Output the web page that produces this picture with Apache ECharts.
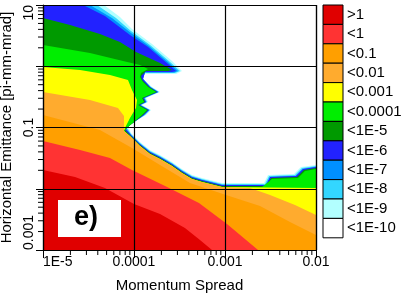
<!DOCTYPE html>
<html><head><meta charset="utf-8">
<script src="https://cdn.jsdelivr.net/npm/echarts@6/dist/echarts.min.js"></script>
<style>html,body{margin:0;padding:0;background:#fff}#c{width:407px;height:302px}</style>
</head><body><div id="c"></div><script>
// ---- axes ----
const X_MIN = 1e-5, X_MAX = 1e-2, Y_MIN = 1e-3, Y_MAX = 10;
const xTickValues = [1e-5, 1e-4, 1e-3, 1e-2];
const xTickLabels = ['1E-5', '0.0001', '0.001', '0.01'];
const yTickValues = [1e-3, 1e-2, 1e-1, 1, 10];
const yTickLabels = ['0.001', '', '0.1', '', '10'];
const xTitle = 'Momentum Spread';
const yTitle = 'Horizontal Emittance [pi-mm-mrad]';
const panelLabel = 'e)';

// ---- legend (levels, top to bottom) ----
const legendLabels = ['>1', '<1', '<0.1', '<0.01', '<0.001', '<0.0001', '<1E-5', '<1E-6', '<1E-7', '<1E-8', '<1E-9', '<1E-10'];
const legendColors = ['#E00000', '#FF3333', '#FF9F00', '#FFAB2E', '#FFFF00', '#00EE00', '#009A00', '#2222FF', '#0090FF', '#33D6FF', '#B2FFFF', '#FFFFFF'];

// ---- contour edges: [log10(momentum spread), log10(emittance)] ----
// each edge bounds the region (towards small spread / small emittance) where the value >= level
const edge1e10 = [[-4.330,1.000],[-4.154,0.804],[-4.022,0.608],[-3.802,0.363],[-3.582,0.086],[-3.473,-0.078],[-3.538,-0.127],[-3.879,-0.127],[-3.923,-0.176],[-3.802,-0.339],[-3.714,-0.420],[-3.868,-0.518],[-3.846,-0.584],[-3.912,-0.633],[-3.813,-0.714],[-3.868,-0.796],[-4.022,-0.927],[-4.066,-0.992],[-4.033,-1.090],[-3.934,-1.237],[-3.824,-1.367],[-3.714,-1.449],[-3.582,-1.563],[-3.473,-1.678],[-3.363,-1.776],[-3.253,-1.824],[-3.033,-1.906],[-2.571,-1.906],[-2.527,-1.776],[-2.242,-1.759],[-2.165,-1.645],[-2.000,-1.612]];
const edge1e9 = [[-4.407,1.000],[-4.198,0.788],[-4.033,0.576],[-3.824,0.347],[-3.604,0.069],[-3.495,-0.078],[-3.549,-0.110],[-3.879,-0.110],[-3.912,-0.192],[-3.813,-0.339],[-3.725,-0.420],[-3.879,-0.518],[-3.857,-0.584],[-3.923,-0.633],[-3.824,-0.714],[-3.879,-0.796],[-4.033,-0.943],[-4.077,-1.008],[-4.033,-1.106],[-3.934,-1.253],[-3.824,-1.384],[-3.714,-1.465],[-3.582,-1.580],[-3.473,-1.694],[-3.363,-1.792],[-3.253,-1.841],[-3.033,-1.922],[-2.560,-1.922],[-2.516,-1.792],[-2.231,-1.776],[-2.154,-1.661],[-2.000,-1.629]];
const edge1e8 = [[-4.484,1.000],[-4.242,0.788],[-4.033,0.543],[-3.835,0.331],[-3.615,0.053],[-3.516,-0.078],[-3.560,-0.102],[-3.879,-0.102],[-3.901,-0.208],[-3.824,-0.339],[-3.736,-0.420],[-3.890,-0.518],[-3.868,-0.584],[-3.934,-0.633],[-3.835,-0.714],[-3.890,-0.796],[-4.044,-0.959],[-4.088,-1.024],[-4.033,-1.122],[-3.934,-1.269],[-3.824,-1.400],[-3.714,-1.482],[-3.582,-1.596],[-3.473,-1.710],[-3.363,-1.808],[-3.253,-1.857],[-3.033,-1.939],[-2.549,-1.939],[-2.505,-1.808],[-2.220,-1.792],[-2.143,-1.678],[-2.000,-1.645]];
const edge1e7 = [[-4.560,1.000],[-4.319,0.820],[-4.044,0.510],[-3.846,0.314],[-3.626,0.037],[-3.538,-0.078],[-3.582,-0.094],[-3.879,-0.094],[-3.901,-0.208],[-3.824,-0.339],[-3.736,-0.420],[-3.890,-0.518],[-3.868,-0.584],[-3.934,-0.633],[-3.835,-0.714],[-3.890,-0.796],[-4.044,-0.959],[-4.088,-1.024],[-4.033,-1.122],[-3.934,-1.269],[-3.824,-1.400],[-3.714,-1.482],[-3.582,-1.596],[-3.473,-1.710],[-3.363,-1.808],[-3.253,-1.857],[-3.033,-1.939],[-2.549,-1.939],[-2.505,-1.808],[-2.220,-1.792],[-2.143,-1.678],[-2.000,-1.645]];
const edge1e6 = [[-5.000,0.788],[-4.703,0.673],[-4.374,0.527],[-4.154,0.396],[-3.978,0.233],[-3.714,0.053],[-3.582,-0.061],[-3.626,-0.078],[-3.868,-0.078],[-3.923,-0.159],[-3.912,-0.224],[-3.835,-0.339],[-3.747,-0.420],[-3.901,-0.518],[-3.879,-0.584],[-3.945,-0.633],[-3.846,-0.714],[-3.901,-0.796],[-4.055,-0.976],[-4.099,-1.041],[-4.033,-1.139],[-3.934,-1.286],[-3.824,-1.416],[-3.714,-1.498],[-3.582,-1.612],[-3.473,-1.727],[-3.363,-1.824],[-3.253,-1.873],[-3.033,-1.955],[-2.538,-1.955],[-2.495,-1.824],[-2.209,-1.808],[-2.132,-1.694],[-2.000,-1.661]];
const edge1e5 = [[-5.000,0.347],[-4.484,0.216],[-4.121,0.086],[-3.934,0.020],[-3.846,-0.045],[-3.923,-0.110],[-3.934,-0.176],[-3.901,-0.257],[-3.846,-0.339],[-3.758,-0.420],[-3.912,-0.518],[-3.890,-0.584],[-3.956,-0.633],[-3.857,-0.714],[-3.912,-0.796],[-4.077,-1.008],[-4.110,-1.057],[-4.033,-1.155],[-3.934,-1.302],[-3.824,-1.433],[-3.714,-1.514],[-3.582,-1.629],[-3.473,-1.743],[-3.363,-1.841],[-3.253,-1.890],[-3.033,-1.971],[-2.593,-1.971],[-2.484,-1.841],[-2.198,-1.824],[-2.121,-1.710],[-2.000,-1.678]];
const edge1e4 = [[-5.000,-0.012],[-4.593,-0.061],[-4.264,-0.143],[-4.066,-0.224],[-4.022,-0.388],[-3.967,-0.551],[-3.978,-0.682],[-4.044,-0.845],[-4.099,-1.008],[-4.110,-1.057],[-4.033,-1.155],[-3.934,-1.302],[-3.824,-1.433],[-3.714,-1.514],[-3.582,-1.629],[-3.473,-1.743],[-3.363,-1.841],[-3.253,-1.890],[-3.033,-1.971],[-2.000,-1.988]];
const edge1e3 = [[-5.000,-0.420],[-4.484,-0.551],[-4.176,-0.682],[-4.110,-0.812],[-4.110,-0.943],[-4.110,-1.057],[-4.033,-1.155],[-3.934,-1.302],[-3.824,-1.433],[-3.714,-1.514],[-3.582,-1.629],[-3.473,-1.743],[-3.363,-1.841],[-3.253,-1.890],[-3.033,-1.971],[-2.725,-1.988],[-2.505,-2.102],[-2.231,-2.265],[-2.000,-2.429]];
const edge1e2 = [[-5.000,-0.796],[-4.374,-1.041],[-4.022,-1.335],[-3.714,-1.612],[-3.385,-1.906],[-2.989,-2.102],[-2.615,-2.282],[-2.286,-2.543],[-2.000,-2.755]];
const edge1e1 = [[-5.000,-1.220],[-4.593,-1.367],[-4.264,-1.498],[-4.022,-1.694],[-3.659,-1.955],[-3.286,-2.233],[-2.978,-2.576],[-2.637,-3.000]];
const edge1e0 = [[-5.000,-1.694],[-4.648,-1.808],[-4.319,-1.988],[-4.000,-2.249],[-3.714,-2.412],[-3.440,-2.641],[-3.275,-2.837],[-3.143,-3.000]];

const edgesOuterToInner = [edge1e10, edge1e9, edge1e8, edge1e7, edge1e6, edge1e5, edge1e4, edge1e3, edge1e2, edge1e1, edge1e0];

// ---- styling ----
const FONT = "'Liberation Sans', Arial, sans-serif";
const L = Math.log10;

function labelFor(values, labels, v) {
  const e = Math.round(L(v));
  for (let i = 0; i < values.length; i++) if (Math.round(L(values[i])) === e) return labels[i];
  return '';
}

function polygonSeries(edge, color) {
  const pts = edge.map(p => [Math.pow(10, p[0]), Math.pow(10, p[1])]);
  const first = edge[0], last = edge[edge.length - 1];
  const ring = [];
  if (first[1] >= L(Y_MAX) - 1e-9) ring.push([X_MIN, Y_MAX]);
  for (const p of pts) ring.push(p);
  if (last[0] >= L(X_MAX) - 1e-9) ring.push([X_MAX, Y_MIN]);
  ring.push([X_MIN, Y_MIN]);
  return {
    type: 'custom', coordinateSystem: 'cartesian2d', clip: true, silent: true, z: 2,
    data: pts,
    renderItem(params, api) {
      if (params.dataIndex !== 0) return null;
      return { type: 'polygon', shape: { points: ring.map(p => api.coord(p)) }, style: { fill: color, stroke: null } };
    }
  };
}

const series = edgesOuterToInner.map((e, k) => polygonSeries(e, legendColors[10 - k]));

// minor ticks (2..9 in every decade)
const xMinor = [], yMinor = [];
for (let d = Math.round(L(X_MIN)); d < Math.round(L(X_MAX)); d++) for (let k = 2; k <= 9; k++) xMinor.push([k * Math.pow(10, d), Y_MIN]);
for (let d = Math.round(L(Y_MIN)); d < Math.round(L(Y_MAX)); d++) for (let k = 2; k <= 9; k++) yMinor.push([X_MIN, k * Math.pow(10, d)]);
series.push({
  type: 'custom', coordinateSystem: 'cartesian2d', clip: false, silent: true, z: 20, data: xMinor,
  renderItem(params, api) {
    const p = api.coord([api.value(0), api.value(1)]);
    return { type: 'line', shape: { x1: p[0], y1: p[1], x2: p[0], y2: p[1] + 5 }, style: { stroke: '#000', lineWidth: 1 } };
  }
});
series.push({
  type: 'custom', coordinateSystem: 'cartesian2d', clip: false, silent: true, z: 20, data: yMinor,
  renderItem(params, api) {
    const p = api.coord([api.value(0), api.value(1)]);
    return { type: 'line', shape: { x1: p[0] - 5, y1: p[1], x2: p[0], y2: p[1] }, style: { stroke: '#000', lineWidth: 1 } };
  }
});

// legend graphics
const LEG_X = 323, LEG_TOP = 5, ROW_H = 19.4, BOX_W = 20;
const graphics = [];
legendLabels.forEach((lab, i) => {
  graphics.push({ type: 'rect', z: 100, shape: { x: LEG_X, y: LEG_TOP + i * ROW_H, width: BOX_W, height: ROW_H },
    style: { fill: legendColors[i], stroke: '#000', lineWidth: 1 } });
  graphics.push({ type: 'text', z: 100, x: LEG_X + BOX_W + 4, y: LEG_TOP + i * ROW_H + ROW_H / 2,
    style: { text: lab, fill: '#000', fontSize: 15, fontFamily: FONT, verticalAlign: 'middle', align: 'left' } });
});
// panel label box
graphics.push({ type: 'rect', z: 100, shape: { x: 58, y: 200, width: 63, height: 37 }, style: { fill: '#fff', stroke: null } });
graphics.push({ type: 'text', z: 101, x: 86, y: 218,
  style: { text: panelLabel, fill: '#000', fontSize: 27, fontWeight: 'bold', fontFamily: FONT, align: 'center', verticalAlign: 'middle' } });

const chart = echarts.init(document.getElementById('c'), null, { renderer: 'canvas' });
chart.setOption({
  animation: false,
  backgroundColor: '#fff',
  grid: { left: 43, top: 5, width: 273, height: 245, show: false, containLabel: false, outerBoundsMode: 'none' },
  xAxis: {
    type: 'log', logBase: 10, min: X_MIN, max: X_MAX, z: 10,
    name: xTitle, nameLocation: 'middle', nameGap: 28,
    nameTextStyle: { color: '#000', fontFamily: FONT, fontSize: 15 },
    axisLine: { show: true, onZero: false, lineStyle: { color: '#000', width: 1.2 } },
    axisTick: { show: true, inside: false, length: 8, lineStyle: { color: '#000', width: 1 } },
    axisLabel: { color: '#000', fontFamily: FONT, fontSize: 14, margin: 5,
      alignMinLabel: 'left', alignMaxLabel: 'right',
      formatter: v => labelFor(xTickValues, xTickLabels, v) },
    splitLine: { show: true, lineStyle: { color: '#000', width: 1.2 } },
    minorTick: { show: false }, minorSplitLine: { show: false }
  },
  yAxis: {
    type: 'log', logBase: 10, min: Y_MIN, max: Y_MAX, z: 10,
    name: yTitle, nameLocation: 'middle', nameGap: 27,
    nameTextStyle: { color: '#000', fontFamily: FONT, fontSize: 15 },
    axisLine: { show: true, onZero: false, lineStyle: { color: '#000', width: 1.2 } },
    axisTick: { show: true, inside: false, length: 7, lineStyle: { color: '#000', width: 1 } },
    axisLabel: { color: '#000', fontFamily: FONT, fontSize: 14, margin: 7, rotate: 90,
      alignMinLabel: 'left', alignMaxLabel: 'right',
      formatter: v => labelFor(yTickValues, yTickLabels, v) },
    splitLine: { show: true, lineStyle: { color: '#000', width: 1.2 } },
    minorTick: { show: false }, minorSplitLine: { show: false }
  },
  graphic: graphics,
  series: series
});
</script></body></html>
